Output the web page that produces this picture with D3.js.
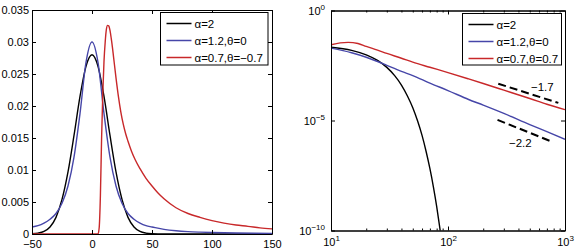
<!DOCTYPE html>
<html>
<head>
<meta charset="utf-8">
<script src="https://cdn.jsdelivr.net/npm/d3@7"></script>
<style>
  body { margin: 0; background: #fff; }
  svg { font-family: "Liberation Sans", Arial, sans-serif; }
</style>
</head>
<body>
<svg id="chart" width="576" height="250"></svg>
<script>
// left panel: densities, linear axes
var leftX = [-50, -45, -40, -35, -30, -25, -20, -15, -10, -5, 0, 5, 10, 15, 20, 25, 30, 35, 40, 45, 50, 60, 80, 100, 150]
var leftBlack = [0.00004, 0.00013, 0.0004, 0.0011, 0.0026, 0.0054, 0.0097, 0.0154, 0.0215, 0.0262, 0.0280, 0.0262, 0.0215, 0.0154, 0.0097, 0.0054, 0.0026, 0.0011, 0.0004, 0.00013, 0.00004, 0, 0, 0, 0]
var leftBlueX = [-50, -45, -40, -35, -30, -25, -20, -15, -10, -5, 0, 5, 10, 15, 20, 25, 30, 35, 40, 45, 50, 60, 70, 80, 90, 100, 120, 150]
var leftBlue = [0.0011, 0.0013, 0.0017, 0.0023, 0.0032, 0.0048, 0.0075, 0.0120, 0.0188, 0.0268, 0.0300, 0.0268, 0.0188, 0.0120, 0.0075, 0.0048, 0.0032, 0.0023, 0.0017, 0.0013, 0.0011, 0.00072, 0.00050, 0.00037, 0.00029, 0.00023, 0.00015, 0.00010]
var leftRedX = [-50, 0, 5, 6, 7, 8, 9, 10, 11, 12, 13, 14, 15, 16, 17, 18, 20, 22, 24, 26, 28, 30, 33, 36, 40, 45, 50, 55, 60, 70, 80, 90, 100, 110, 120, 130, 140, 150]
var leftRed = [0, 0, 0, 0.001, 0.006, 0.015, 0.022, 0.027, 0.030, 0.0320, 0.0326, 0.0325, 0.0318, 0.0306, 0.0292, 0.0276, 0.0244, 0.0215, 0.0191, 0.0172, 0.0157, 0.0145, 0.0129, 0.0116, 0.0102, 0.0087, 0.0075, 0.0064, 0.0055, 0.0041, 0.0032, 0.0026, 0.0021, 0.0017, 0.0014, 0.0012, 0.00095, 0.0008]
var leftXTicks = [-50, 0, 50, 100, 150]
var leftYTicks = [0, 0.005, 0.01, 0.015, 0.02, 0.025, 0.03, 0.035]
var leftLegend = ['\u03b1=2', '\u03b1=1.2,\u03b8=0', '\u03b1=0.7,\u03b8=\u22120.7']

// right panel: tails, log-log axes
var rightBlackX = [10, 15, 20, 25, 30, 35, 40, 45, 50, 55, 60, 65, 70, 75, 80, 85, 88]
var rightBlack = [2.15e-2, 1.55e-2, 9.7e-3, 5.4e-3, 2.6e-3, 1.1e-3, 4.1e-4, 1.3e-4, 3.8e-5, 9.4e-6, 2.1e-6, 3.9e-7, 6.6e-8, 9.7e-9, 1.25e-9, 1.4e-10, 3.6e-11]
var rightBlueX = [10, 15, 20, 25, 30, 40, 50, 70, 100, 150, 200, 300, 500, 700, 1000]
var rightBlue = [1.95e-2, 1.2e-2, 7.5e-3, 4.8e-3, 3.2e-3, 1.7e-3, 1.1e-3, 5.0e-4, 2.3e-4, 9.0e-5, 5.0e-5, 2.1e-5, 6.5e-6, 3.1e-6, 1.4e-6]
var rightRedX = [10, 12, 14, 17, 20, 25, 30, 40, 50, 70, 100, 150, 200, 300, 500, 700, 1000]
var rightRed = [2.75e-2, 3.39e-2, 3.55e-2, 3.16e-2, 2.34e-2, 1.58e-2, 1.12e-2, 6.76e-3, 4.47e-3, 2.63e-3, 1.51e-3, 7.76e-4, 4.79e-4, 2.4e-4, 1.0e-4, 5.5e-5, 3.1e-5]
var rightXTicks = [10, 100, 1000]
var rightYTicks = [1e-10, 1e-5, 1]
var rightLegend = ['\u03b1=2', '\u03b1=1.2,\u03b8=0', '\u03b1=0.7,\u03b8=0.7']
// slope guides: [x0, x1], [y0, y1], label
var guide17X = [269, 877], guide17Y = [4.7e-4, 6.3e-5], guide17Label = '\u22121.7'
var guide22X = [265, 769], guide22Y = [1.07e-5, 1.1e-6], guide22Label = '\u22122.2'

var colors = ['#000000', '#4646a8', '#c8282a']

var svg = d3.select('#chart')

function pairs(xs, ys) {
	return xs.map(function(d, i) { return [d, ys[i]] })
}

function drawLegend(g, x, y, w, h, labels) {
	g.append('rect')
		.attr('x', x).attr('y', y)
		.attr('width', w).attr('height', h)
		.attr('fill', '#fff')
		.attr('stroke', '#000')
		.attr('stroke-width', 1)
	labels.forEach(function(t, i) {
		var ly = y + 11 + i * 17
		g.append('line')
			.attr('x1', x + 6).attr('x2', x + 31)
			.attr('y1', ly).attr('y2', ly)
			.attr('stroke', colors[i])
			.attr('stroke-width', 1.5)
		g.append('text')
			.attr('x', x + 34).attr('y', ly + 4)
			.attr('font-size', 11.5)
			.text(t)
	})
}

// ---------- left panel ----------
var lx = d3.scaleLinear().domain([-50, 150]).range([32, 272])
var ly = d3.scaleLinear().domain([0, 0.035]).range([234, 10])

var left = svg.append('g')
left.append('clipPath').attr('id', 'clipL')
	.append('rect').attr('x', 32).attr('y', 10).attr('width', 240).attr('height', 224)

var lineL = d3.line()
	.x(function(d) { return lx(d[0]) })
	.y(function(d) { return ly(d[1]) })
	.curve(d3.curveMonotoneX)

var leftSeries = [pairs(leftX, leftBlack), pairs(leftBlueX, leftBlue), pairs(leftRedX, leftRed)]
left.selectAll('.curve')
	.data(leftSeries)
	.enter()
	.append('path')
	.attr('class', 'curve')
	.attr('d', lineL)
	.attr('fill', 'none')
	.attr('stroke', function(d, i) { return colors[i] })
	.attr('stroke-width', 1.4)
	.attr('clip-path', 'url(#clipL)')

// box + inward ticks (all four sides)
left.append('g').attr('transform', 'translate(0,234)')
	.call(d3.axisBottom(lx).tickValues(leftXTicks).tickSizeInner(-4).tickSizeOuter(0).tickPadding(6)
		.tickFormat(function(d) { return d < 0 ? '\u2212' + Math.abs(d) : d }))
left.append('g').attr('transform', 'translate(0,10)')
	.call(d3.axisTop(lx).tickValues(leftXTicks).tickSizeInner(-4).tickSizeOuter(0).tickFormat(''))
left.append('g').attr('transform', 'translate(32,0)')
	.call(d3.axisLeft(ly).tickValues(leftYTicks).tickSizeInner(-4).tickSizeOuter(0).tickPadding(3)
		.tickFormat(function(d) { return d === 0 ? '0' : d3.format('.3~f')(d) }))
left.append('g').attr('transform', 'translate(272,0)')
	.call(d3.axisRight(ly).tickValues(leftYTicks).tickSizeInner(-4).tickSizeOuter(0).tickFormat(''))

drawLegend(left, 160.5, 12.5, 107.5, 52.5, leftLegend)

// ---------- right panel ----------
var rx = d3.scaleLog().domain([10, 1000]).range([331, 565])
var ry = d3.scaleLog().domain([1e-10, 1]).range([230.5, 10.5])

var right = svg.append('g')
right.append('clipPath').attr('id', 'clipR')
	.append('rect').attr('x', 331).attr('y', 10.5).attr('width', 234).attr('height', 220)

var lineR = d3.line()
	.x(function(d) { return rx(d[0]) })
	.y(function(d) { return ry(d[1]) })
	.curve(d3.curveMonotoneX)

var rightSeries = [pairs(rightBlackX, rightBlack), pairs(rightBlueX, rightBlue), pairs(rightRedX, rightRed)]
right.selectAll('.curve')
	.data(rightSeries)
	.enter()
	.append('path')
	.attr('class', 'curve')
	.attr('d', lineR)
	.attr('fill', 'none')
	.attr('stroke', function(d, i) { return colors[i] })
	.attr('stroke-width', 1.4)
	.attr('clip-path', 'url(#clipR)')

// slope guides
var guides = [[guide17X, guide17Y], [guide22X, guide22Y]]
right.selectAll('.guide')
	.data(guides)
	.enter()
	.append('line')
	.attr('class', 'guide')
	.attr('x1', function(d) { return rx(d[0][0]) })
	.attr('x2', function(d) { return rx(d[0][1]) })
	.attr('y1', function(d) { return ry(d[1][0]) })
	.attr('y2', function(d) { return ry(d[1][1]) })
	.attr('stroke', '#000')
	.attr('stroke-width', 2)
	.attr('stroke-dasharray', '8,4')
right.append('text').attr('x', 531).attr('y', 91).attr('font-size', 11.5).text(guide17Label)
right.append('text').attr('x', 509).attr('y', 147).attr('font-size', 11.5).text(guide22Label)

var minorX = []
for (var dec = 10; dec < 1000; dec *= 10) {
	for (var m = 2; m <= 9; m++) minorX.push(dec * m)
}

function supLabel(sel, exp) {
	sel.text(null)
	sel.append('tspan').text('10')
	sel.append('tspan').attr('dy', -5).attr('font-size', 8).text(exp)
}

var xb = right.append('g').attr('transform', 'translate(0,230.5)')
	.call(d3.axisBottom(rx).tickValues(rightXTicks).tickSizeInner(-4).tickSizeOuter(0).tickPadding(8))
xb.selectAll('.tick text').each(function(d) { supLabel(d3.select(this), Math.round(Math.log10(d))) })
right.append('g').attr('transform', 'translate(0,230.5)')
	.call(d3.axisBottom(rx).tickValues(minorX).tickSizeInner(-2).tickSizeOuter(0).tickFormat(''))
right.append('g').attr('transform', 'translate(0,10.5)')
	.call(d3.axisTop(rx).tickValues(rightXTicks).tickSizeInner(-4).tickSizeOuter(0).tickFormat(''))
right.append('g').attr('transform', 'translate(0,10.5)')
	.call(d3.axisTop(rx).tickValues(minorX).tickSizeInner(-2).tickSizeOuter(0).tickFormat(''))

var yl = right.append('g').attr('transform', 'translate(331,0)')
	.call(d3.axisLeft(ry).tickValues(rightYTicks).tickSizeInner(-4).tickSizeOuter(0).tickPadding(6))
yl.selectAll('.tick text').each(function(d) {
	var e = Math.round(Math.log10(d))
	supLabel(d3.select(this), e < 0 ? '\u2212' + Math.abs(e) : e)
})
right.append('g').attr('transform', 'translate(565,0)')
	.call(d3.axisRight(ry).tickValues(rightYTicks).tickSizeInner(-4).tickSizeOuter(0).tickFormat(''))

drawLegend(right, 462.5, 13.5, 99, 51.5, rightLegend)

// common axis look
svg.selectAll('.domain').attr('stroke', '#000').attr('stroke-width', 1)
svg.selectAll('.tick line').attr('stroke', '#000')
svg.selectAll('.tick text').attr('font-size', 11).attr('fill', '#000')
	.style('font-family', '"Liberation Sans", Arial, sans-serif')
</script>
</body>
</html>
